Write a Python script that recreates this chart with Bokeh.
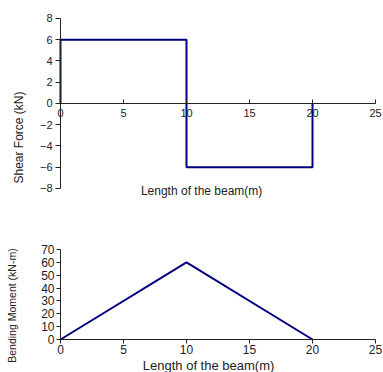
import math
from bokeh.plotting import figure
from bokeh.models import Range1d, Label, FixedTicker
from bokeh.layouts import column
from bokeh.embed import file_html
from bokeh.resources import INLINE

# data
shear_x = [0, 0, 10, 10, 20, 20]
shear_y = [0, 6, 6, -6, -6, 0]
moment_x = [0, 10, 20]
moment_y = [0, 60, 0]
x_ticks = [0, 5, 10, 15, 20, 25]
shear_ticks = [-8, -6, -4, -2, 0, 2, 4, 6, 8]
moment_ticks = [0, 10, 20, 30, 40, 50, 60, 70]

FONT = "Liberation Sans"
LINE = "#000080"
INK = "#222222"


def style_axis(ax, ticks, tick_in, tick_out, standoff, size):
    ax.ticker = FixedTicker(ticks=ticks)
    ax.major_tick_in = tick_in
    ax.major_tick_out = tick_out
    ax.minor_tick_in = 0
    ax.minor_tick_out = 0
    ax.major_label_standoff = standoff
    ax.axis_line_color = INK
    ax.major_tick_line_color = INK
    ax.major_label_text_font = FONT
    ax.major_label_text_font_size = size
    ax.major_label_text_color = INK


# ---------- top: shear force ----------
p1 = figure(width=383, height=220, output_backend="svg", toolbar_location=None,
            x_range=Range1d(-4.762, 25.635), y_range=Range1d(-11.012, 9.694),
            min_border_left=0, min_border_right=0, min_border_top=0, min_border_bottom=0)
p1.outline_line_color = None
p1.grid.visible = False
p1.line(shear_x, shear_y, line_color=LINE, line_width=2)

xa = p1.xaxis[0]
xa.fixed_location = 0
xa.bounds = (0, 25)
style_axis(xa, x_ticks, 4, 0, 6, "11px")
ya = p1.yaxis[0]
ya.fixed_location = 0
ya.bounds = (-8, 8)
style_axis(ya, shear_ticks, 0, 5, 3, "11px")

p1.add_layout(Label(x=11.2, y=-8.28, text="Length of the beam(m)", text_font=FONT,
                    text_font_size="12px", text_align="center", text_baseline="middle",
                    text_color=INK))
p1.add_layout(Label(x=-3.33, y=-3.2, text="Shear Force (kN)", text_font=FONT,
                    text_font_size="12px", text_align="center", text_baseline="middle",
                    angle=math.pi / 2, text_color=INK))

# ---------- bottom: bending moment ----------
p2 = figure(width=383, height=152, output_backend="svg", toolbar_location=None,
            x_range=Range1d(-4.762, 25.635), y_range=Range1d(-25.667, 92.556),
            min_border_left=0, min_border_right=0, min_border_top=0, min_border_bottom=0)
p2.outline_line_color = None
p2.grid.visible = False
p2.line(moment_x, moment_y, line_color=LINE, line_width=2)

xb = p2.xaxis[0]
xb.fixed_location = 0
xb.bounds = (0, 25)
style_axis(xb, x_ticks, 0, 4, 2, "12px")
yb = p2.yaxis[0]
yb.fixed_location = 0
yb.bounds = (0, 70)
style_axis(yb, moment_ticks, 0, 4, 2, "12px")

p2.add_layout(Label(x=11.75, y=-20.2, text="Length of the beam(m)", text_font=FONT,
                    text_font_size="13px", text_align="center", text_baseline="middle",
                    text_color=INK))
p2.add_layout(Label(x=-3.81, y=26.4, text="Bending Moment (kN-m)", text_font=FONT,
                    text_font_size="10.5px", text_align="center", text_baseline="middle",
                    angle=math.pi / 2, text_color=INK))

layout = column(p1, p2, spacing=0)
open("out.html", "w").write(file_html(layout, INLINE))
